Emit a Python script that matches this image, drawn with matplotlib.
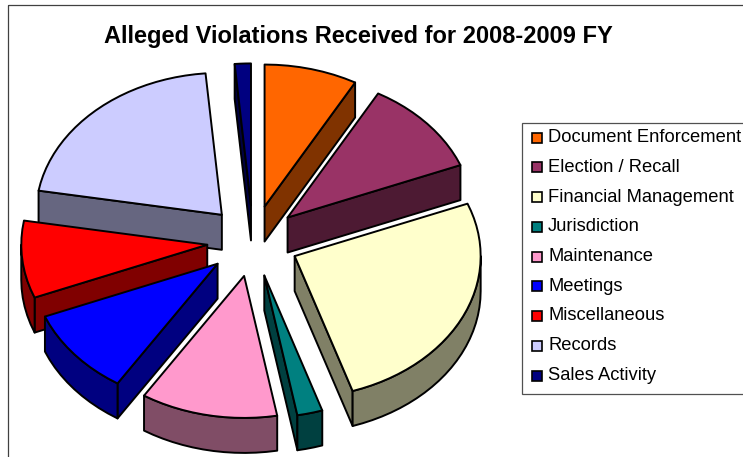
import numpy as np
import matplotlib
matplotlib.use("Agg")
import matplotlib.pyplot as plt
from matplotlib.colors import to_rgb
from matplotlib.patches import Polygon, Rectangle

title = "Alleged Violations Received for 2008-2009 FY"
categories = ["Document Enforcement", "Election / Recall", "Financial Management",
              "Jurisdiction", "Maintenance", "Meetings", "Miscellaneous",
              "Records", "Sales Activity"]
values = [8.1, 10.9, 26.0, 2.2, 11.9, 9.9, 8.8, 20.9, 1.4]
colors = ["#FF6600", "#993366", "#FFFFCC", "#008080", "#FF99CC",
          "#0000FF", "#FF0000", "#CCCCFF", "#000080"]

plt.rcParams["font.family"] = ["Liberation Sans", "DejaVu Sans"]
W, H = 743, 457
fig = plt.figure(figsize=(W / 100, H / 100), dpi=100)
ax = fig.add_axes([0, 0, 1, 1])
ax.set_xlim(0, W)
ax.set_ylim(H, 0)
ax.axis("off")

# pixel-space layout of the tilted, exploded pie
CX, CY, RX, RY, DEPTH, EXPLODE = 253, 241, 186, 142, 35, 46
LW = 1.4
EDGE = dict(ec="black", lw=LW, joinstyle="round", closed=True)


def project(theta):
    return np.column_stack([RX * np.sin(theta), -RY * np.cos(theta)])


edges = np.radians(np.concatenate([[0], np.cumsum(values)]) / np.sum(values) * 360)
down = np.array([0, DEPTH])

wedges = []
for i, c in enumerate(colors):
    a0, a1 = edges[i], edges[i + 1]
    mid = (a0 + a1) / 2
    tip = np.array([CX + EXPLODE * np.sin(mid), CY - EXPLODE * np.cos(mid) * 0.774])
    wedges.append((tip, a0, a1, c))

# painter's order: back to front
for tip, a0, a1, c in sorted(wedges, key=lambda w: w[0][1]):
    side = tuple(x * 0.5 for x in to_rgb(c))
    th = np.linspace(a0, a1, max(4, int(np.degrees(a1 - a0) / 3)))
    arc = project(th) + tip
    # radial faces turned toward the viewer
    if np.sin(a0) < -1e-6:
        ax.add_patch(Polygon([tip, arc[0], arc[0] + down, tip + down], fc=side, **EDGE))
    if np.sin(a1) > 1e-6:
        ax.add_patch(Polygon([tip, arc[-1], arc[-1] + down, tip + down], fc=side, **EDGE))
    # outer wall: only the front half of the rim shows
    lo, hi = max(a0, np.pi / 2), min(a1, 3 * np.pi / 2)
    if hi > lo:
        t2 = np.linspace(lo, hi, max(4, int(np.degrees(hi - lo) / 3)))
        rim = project(t2) + tip
        ax.add_patch(Polygon(np.vstack([rim, (rim + down)[::-1]]), fc=side, **EDGE))
    ax.add_patch(Polygon(np.vstack([[tip], arc]), fc=c, **EDGE))

# chart frame (runs off the right and bottom of the picture)
ax.add_patch(Rectangle((7.5, 4.5), 800, 600, fc="none", ec="#404040", lw=0.9))

ax.text(358.5, 37, title, ha="center", va="center", fontsize=17, fontweight="bold", color="black")

# legend
ax.add_patch(Rectangle((521.5, 122.5), 300, 271.5, fc="white", ec="#505050", lw=0.9))
for i, (name, c) in enumerate(zip(categories, colors)):
    y = 137.5 + i * 29.75
    ax.add_patch(Rectangle((531.5, y - 5), 10, 10, fc=c, ec="black", lw=1.2))
    ax.text(548, y, name, ha="left", va="center", fontsize=13.2, color="black")

fig.savefig("out.png", dpi=100, facecolor="white")
